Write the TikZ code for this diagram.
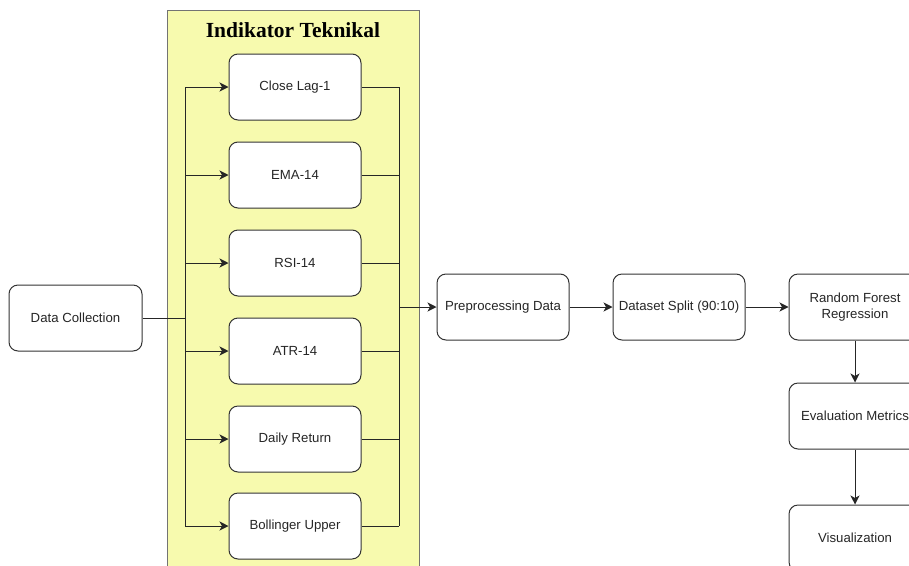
\documentclass[tikz,border=0pt]{standalone}
\usepackage{fontspec}
\setmainfont{Liberation Sans}
\newfontfamily\titlefont{Liberation Serif}
\usetikzlibrary{arrows.meta}
\definecolor{panelyellow}{HTML}{F7FAAE}
\definecolor{boxline}{HTML}{333333}
\tikzset{
  procbox/.style={draw=boxline, line width=1pt, rounded corners=9pt, fill=white,
    minimum width=132pt, minimum height=66pt, inner sep=2pt, align=center,
    font=\fontsize{13.2pt}{15.5pt}\selectfont, text=black!85},
  conn/.style={draw=black!85, line width=1pt},
  arr/.style={conn, -{Stealth[length=9pt,width=9pt,inset=2.5pt]}},
}
\begin{document}
\begin{tikzpicture}[x=1pt,y=-1pt]
\useasboundingbox (0,0) rectangle (909,565);
\clip (0,0) rectangle (909,565);
% panel
\node[draw=black!55, line width=1pt, fill=panelyellow, minimum width=252pt, minimum height=580pt, anchor=north west, inner sep=0pt] (panel) at (167,10) {};
\node[font=\titlefont\bfseries\fontsize{21.5pt}{24pt}\selectfont] (title) at (293,30) {Indikator Teknikal};
% indicator boxes
\node[procbox] (b1) at (295,87) {Close Lag-1};
\node[procbox] (b2) at (295,175) {EMA-14};
\node[procbox] (b3) at (295,263) {RSI-14};
\node[procbox] (b4) at (295,351) {ATR-14};
\node[procbox] (b5) at (295,439) {Daily Return};
\node[procbox] (b6) at (295,526) {Bollinger Upper};
% pipeline
\node[procbox, minimum width=133pt] (dc) at (75.5,318) {Data Collection};
\node[procbox] (pre) at (503,307) {Preprocessing Data};
\node[procbox] (split) at (679,307) {Dataset Split (90:10)};
\node[procbox] (rf) at (855,307) {Random Forest\\Regression};
\node[procbox] (ev) at (855,416) {Evaluation Metrics};
\node[procbox] (vis) at (855,538) {Visualization};
% junction coordinates
\coordinate (lt) at (185,87);
\coordinate (lb) at (185,526);
\coordinate (lm) at (185,318);
\coordinate (rt) at (399,87);
\coordinate (rb) at (399,526);
\coordinate (rm) at (399,307);
% left fan-out
\draw[conn] (dc.east) -- (lm);
\draw[conn] (lt) -- (lb);
\foreach \b in {b1,b2,b3,b4,b5,b6}{
  \draw[arr] (lt |- \b.west) -- (\b.west);
}
% right fan-in
\draw[conn] (rt) -- (rb);
\foreach \b in {b1,b2,b3,b4,b5,b6}{
  \draw[conn] (\b.east) -- (rt |- \b.east);
}
\draw[arr] (rm) -- (pre.west);
\draw[arr] (pre.east) -- (split.west);
\draw[arr] (split.east) -- (rf.west);
\draw[arr] (rf.south) -- (ev.north);
\draw[arr] (ev.south) -- (vis.north);
\end{tikzpicture}
\end{document}
